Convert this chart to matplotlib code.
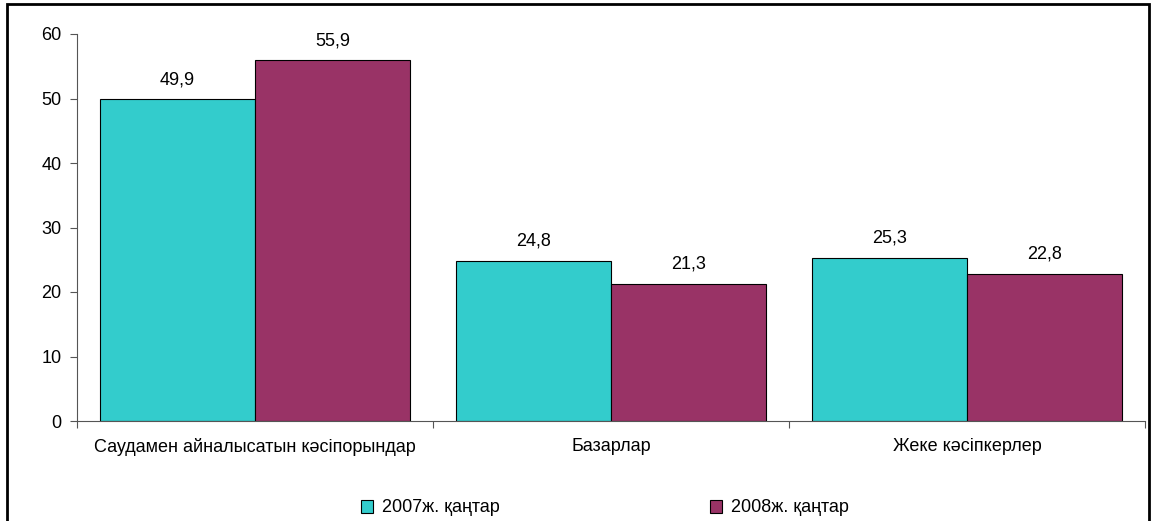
import matplotlib
matplotlib.use("Agg")
import matplotlib.pyplot as plt
import numpy as np
from matplotlib.patches import Rectangle

plt.rcParams['font.family'] = ['Liberation Sans', 'DejaVu Sans']

categories = ["Саудамен айналысатын кәсіпорындар", "Базарлар", "Жеке кәсіпкерлер"]
series_names = ["2007ж. қаңтар", "2008ж. қаңтар"]
values_2007 = [49.9, 24.8, 25.3]
values_2008 = [55.9, 21.3, 22.8]
colors = ["#33CCCC", "#993366"]

fs = 13

fig = plt.figure(figsize=(11.52, 5.21), dpi=100)
ax = fig.add_axes([77 / 1152, 1 - 421 / 521, (1145 - 77) / 1152, (421 - 34) / 521])

x = np.arange(len(categories))
w = 0.435
bars1 = ax.bar(x - w / 2, values_2007, w, color=colors[0], edgecolor="black", linewidth=0.8,
               label=series_names[0])
bars2 = ax.bar(x + w / 2, values_2008, w, color=colors[1], edgecolor="black", linewidth=0.8,
               label=series_names[1])

for bars in (bars1, bars2):
    for b in bars:
        h = b.get_height()
        ax.annotate(f"{h:.1f}".replace(".", ","), (b.get_x() + b.get_width() / 2, h),
                    xytext=(0, 8), textcoords="offset points", ha="center", va="bottom",
                    fontsize=fs)

ax.set_xlim(-0.5, len(categories) - 0.5)
ax.set_ylim(0, 60)
ax.set_yticks(range(0, 61, 10))
ax.tick_params(axis="y", labelsize=fs, length=5, width=0.8, color="#555555", pad=6)

# category boundary ticks, labels placed at centres
ax.set_xticks(np.arange(-0.5, len(categories), 1.0))
ax.set_xticklabels([])
ax.set_xticks(x, minor=True)
ax.set_xticklabels(categories, minor=True, fontsize=fs)
ax.tick_params(axis="x", which="major", length=5, width=0.8, color="#555555")
ax.tick_params(axis="x", which="minor", length=0, pad=12)

for s in ("top", "right"):
    ax.spines[s].set_visible(False)
ax.spines["left"].set_color("#555555")
ax.spines["bottom"].set_color("#555555")
ax.spines["left"].set_linewidth(0.8)
ax.spines["bottom"].set_linewidth(0.8)

fig.legend(handles=[bars1, bars2], labels=series_names, loc="center",
           bbox_to_anchor=(605 / 1152, 1 - 508 / 521), ncol=2, frameon=False,
           fontsize=fs, handlelength=0.7, handleheight=0.7, handletextpad=0.5,
           columnspacing=11.6)

# outer frame (bottom edge lies outside the picture)
fig.patches.append(Rectangle((7 / 1152, -0.05), (1149 - 7) / 1152, 1 - 4 / 521 + 0.05,
                             transform=fig.transFigure, fill=False, edgecolor="black",
                             linewidth=2))

fig.savefig("out.png", dpi=100)
